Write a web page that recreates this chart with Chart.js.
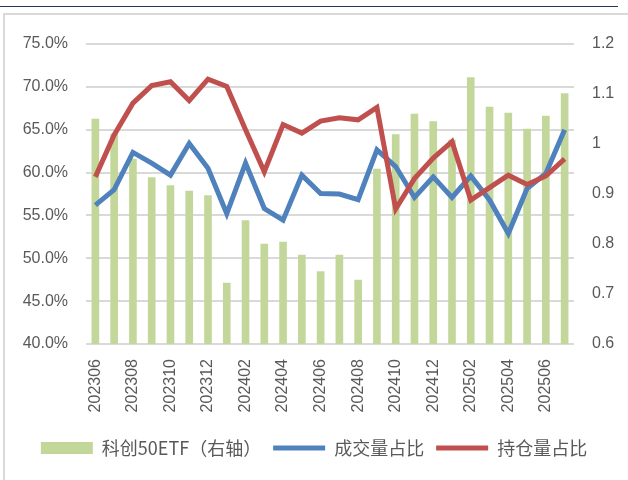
<!DOCTYPE html>
<html>
<head>
<meta charset="utf-8">
<script src="https://cdn.jsdelivr.net/npm/chart.js@4"></script>
<style>
    html, body { margin: 0; padding: 0; background: #fff; }
    #wrap { position: relative; width: 628px; height: 480px; overflow: hidden; }
    #topline { position: absolute; left: 0; top: 6px; width: 618px; height: 1px; background: #1f3864; }
    #frame { position: absolute; left: 3px; top: 13px; width: 700px; height: 500px; border-left: 2px solid #d9d9d9; border-top: 2px solid #d9d9d9; }
    #chart { position: absolute; left: 0; top: 0; }
</style>
</head>
<body>
<div id="wrap">
    <div id="topline"></div>
    <div id="frame"></div>
    <canvas id="chart" width="628" height="480"></canvas>
</div>
<script>
// Months on the x axis
const months = ['202306', '202307', '202308', '202309', '202310', '202311', '202312',
    '202401', '202402', '202403', '202404', '202405', '202406', '202407', '202408',
    '202409', '202410', '202411', '202412', '202501', '202502', '202503', '202504',
    '202505', '202506', '202507'];

// 科创50ETF (right axis)
const etfValues = [1.05, 1.02, 0.97, 0.933, 0.917, 0.906, 0.897, 0.722, 0.847, 0.80,
    0.804, 0.778, 0.745, 0.778, 0.728, 0.95, 1.019, 1.06, 1.045, 1.008, 1.133, 1.074,
    1.062, 1.03, 1.056, 1.101];

// 成交量占比 (%)
const volumeShare = [56.2, 58.0, 62.35, 61.1, 59.7, 63.4, 60.5, 55.2, 61.1, 55.8, 54.45,
    59.7, 57.55, 57.5, 56.85, 62.65, 60.7, 57.1, 59.5, 57.1, 59.6, 56.8, 52.9, 58.15,
    59.9, 65.0];

// 持仓量占比 (%)
const positionShare = [59.5, 64.4, 68.1, 70.15, 70.6, 68.4, 70.9, 70.05, 65.0, 60.1, 65.6,
    64.6, 66.0, 66.4, 66.15, 67.6, 55.75, 59.3, 61.7, 63.6, 56.8, 58.25, 59.7, 58.6,
    59.6, 61.6];

const textColor = '#595959';
const gridColor = '#d9d9d9';
const tickFont = { family: "'Liberation Sans', Arial, sans-serif", size: 16 };

new Chart(document.getElementById('chart').getContext('2d'), {
    type: 'bar',
    data: {
        labels: months,
        datasets: [
            {
                type: 'bar',
                label: '科创50ETF（右轴）',
                data: etfValues,
                backgroundColor: '#c4d79b',
                borderWidth: 0,
                barThickness: 7,
                yAxisID: 'y1',
                order: 3,
                pointStyle: 'rect'
            },
            {
                type: 'line',
                label: '成交量占比',
                data: volumeShare,
                borderColor: '#4f81bd',
                backgroundColor: '#4f81bd',
                borderWidth: 5,
                pointRadius: 0,
                tension: 0,
                yAxisID: 'y',
                order: 2,
                pointStyle: 'line'
            },
            {
                type: 'line',
                label: '持仓量占比',
                data: positionShare,
                borderColor: '#c0504d',
                backgroundColor: '#c0504d',
                borderWidth: 5,
                pointRadius: 0,
                tension: 0,
                yAxisID: 'y',
                order: 1,
                pointStyle: 'line'
            }
        ]
    },
    options: {
        responsive: false,
        animation: false,
        layout: { padding: { top: 44, bottom: 13, left: 0, right: 0 } },
        plugins: {
            tooltip: { enabled: false },
            legend: {
                position: 'bottom',
                labels: {
                    usePointStyle: true,
                    pointStyleWidth: 52,
                    boxHeight: 12,
                    padding: 12,
                    color: textColor,
                    font: { family: "'Noto Sans CJK SC', sans-serif", size: 18 },
                    sort: (a, b) => a.datasetIndex - b.datasetIndex
                }
            }
        },
        scales: {
            x: {
                grid: { display: false, drawTicks: false },
                border: { display: false },
                ticks: {
                    autoSkip: false,
                    minRotation: 90,
                    maxRotation: 90,
                    padding: 15,
                    color: textColor,
                    font: tickFont,
                    callback: function (value, index) {
                        return index % 2 === 0 ? this.getLabelForValue(value) : '';
                    }
                },
                afterFit: (scale) => { scale.height = 83; }
            },
            y: {
                position: 'left',
                min: 40,
                max: 75,
                grid: { color: gridColor, lineWidth: 2, drawTicks: false },
                border: { display: false },
                ticks: {
                    stepSize: 5,
                    padding: 18,
                    color: textColor,
                    font: tickFont,
                    callback: (v) => v.toFixed(1) + '%'
                },
                afterFit: (scale) => { scale.width = 86; }
            },
            y1: {
                position: 'right',
                min: 0.6,
                max: 1.2,
                grid: { display: false, drawTicks: false },
                border: { display: false },
                ticks: {
                    stepSize: 0.1,
                    padding: 18,
                    color: textColor,
                    font: tickFont,
                    callback: (v) => String(Number(v.toFixed(1)))
                },
                afterFit: (scale) => { scale.width = 54; }
            }
        }
    }
});
</script>
</body>
</html>
